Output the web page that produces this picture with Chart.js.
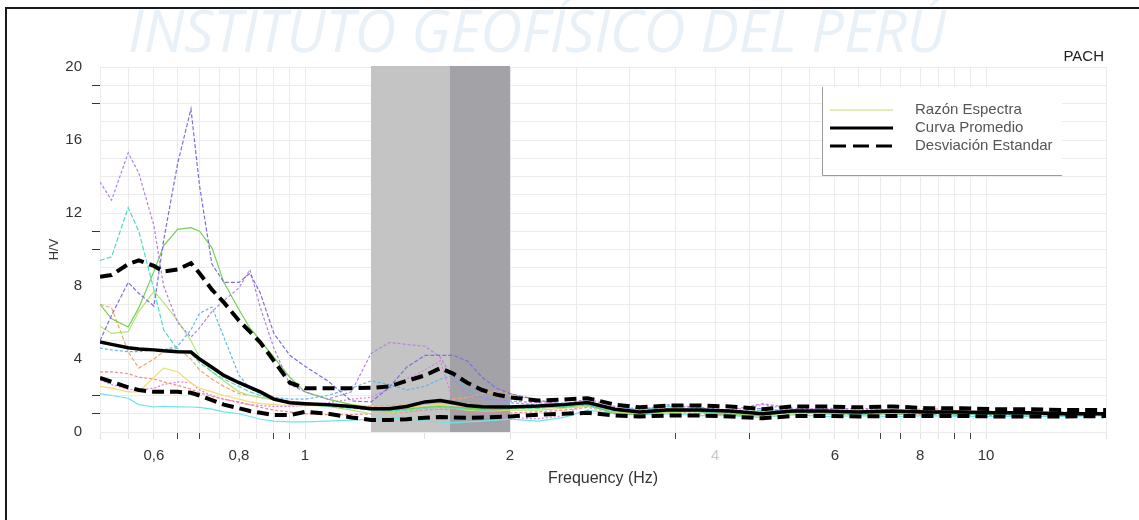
<!DOCTYPE html>
<html>
<head>
<meta charset="utf-8">
<script src="https://cdn.jsdelivr.net/npm/chart.js@4.4.1/dist/chart.umd.min.js"></script>
<style>
  html, body { margin: 0; padding: 0; background: #fff; }
  #wrap { width: 1139px; height: 520px; }
</style>
</head>
<body>
<div id="wrap"><canvas id="hvChart" width="1139" height="520"></canvas></div>
<script>
// frequency grid (Hz) shared by every curve
const freqs = [0.50,0.52,0.55,0.57,0.60,0.62,0.65,0.68,0.70,0.73,0.76,0.80,0.83,0.86,0.90,0.95,1.00,1.08,1.17,1.25,1.33,1.41,1.50,1.58,1.65,1.73,1.82,1.91,2.00,
               2.20,2.40,2.60,2.85,3.10,3.40,3.80,4.20,4.70,5.20,5.80,6.50,7.30,8.20,9.20,10.3,11.5,13.0,15.0];

const promedio = [4.93,4.8,4.62,4.55,4.5,4.45,4.4,4.38,4.0,3.55,3.1,2.7,2.45,2.2,1.8,1.6,1.55,1.5,1.4,1.27,1.28,1.4,1.65,1.72,1.6,1.45,1.38,1.37,1.37,
                  1.42,1.5,1.62,1.25,1.1,1.2,1.2,1.15,1.0,1.15,1.15,1.1,1.15,1.1,1.1,1.05,1.05,1.0,1.0];
const desvSup = [8.5,8.6,9.2,9.4,9.1,8.8,8.9,9.25,8.7,7.8,7.1,6.1,5.5,4.9,3.9,2.7,2.4,2.4,2.4,2.42,2.5,2.8,3.1,3.5,3.2,2.7,2.3,2.05,1.9,
                 1.72,1.78,1.85,1.5,1.35,1.45,1.45,1.4,1.25,1.4,1.4,1.35,1.4,1.3,1.3,1.25,1.25,1.2,1.2];
const desvInf = [2.96,2.75,2.45,2.3,2.2,2.2,2.2,2.15,2.0,1.75,1.5,1.3,1.15,1.05,0.93,0.93,1.1,1.0,0.8,0.66,0.66,0.7,0.78,0.82,0.8,0.78,0.8,0.82,0.85,
                 0.95,1.0,1.05,0.9,0.85,0.9,0.9,0.85,0.75,0.88,0.88,0.85,0.88,0.88,0.88,0.85,0.85,0.85,0.87];

// individual spectral ratios (one per window)
const razon1 = [5.0,6.4,8.2,7.6,6.9,10.5,14.7,17.7,13.5,9.2,8.2,8.2,8.7,7.6,5.4,4.2,3.6,2.8,1.7,1.65,2.45,3.55,4.2,4.2,4.2,3.9,3.0,2.4,2.1,
                1.75,1.5,1.6,1.3,1.1,1.25,1.2,1.1,1.3,1.1,1.2,1.0,1.1,1.0,1.1,1.05,1.0,0.95,0.95];
const razon2 = [13.7,12.7,15.3,14.2,11.3,8.0,6.0,5.2,5.7,6.6,7.2,7.9,8.9,6.8,4.6,2.6,2.2,1.8,2.2,4.3,4.9,4.8,4.7,4.1,2.9,2.05,1.85,1.75,1.7,
                1.6,1.55,1.8,1.4,1.2,1.5,1.35,1.2,1.55,1.3,1.25,1.3,1.2,1.15,1.1,1.1,1.05,1.1,1.0];
const razon3 = [9.4,9.6,12.3,11.0,7.8,5.6,4.5,4.3,3.8,3.3,2.9,2.5,2.2,2.0,1.8,1.6,1.5,1.4,1.3,1.2,1.15,1.2,1.3,1.35,1.3,1.25,1.2,1.25,1.3,
                1.3,1.4,1.5,1.1,1.25,1.4,1.1,1.0,1.2,1.05,1.0,0.95,1.1,1.0,0.9,1.0,0.95,0.9,0.95];
const razon4 = [4.6,4.5,4.4,4.4,4.5,4.5,4.7,5.6,6.5,6.85,5.2,3.1,2.4,2.1,1.9,1.8,1.8,2.0,2.4,2.8,2.6,2.3,2.5,2.9,3.1,2.4,1.9,1.7,1.6,
                1.5,1.6,1.45,1.2,1.35,1.2,1.3,1.05,1.1,1.25,1.0,1.1,0.95,1.05,1.0,0.9,1.0,1.0,0.95];
const razon5 = [7.0,6.2,5.75,6.8,8.8,10.2,11.1,11.2,11.0,10.1,8.2,6.7,5.7,5.0,4.1,3.0,2.2,1.8,1.5,1.3,1.2,1.25,1.35,1.4,1.35,1.3,1.3,1.35,1.4,
                1.4,1.35,1.5,1.0,0.95,1.15,1.1,0.95,0.9,1.1,1.05,1.0,1.0,1.05,0.95,1.0,1.0,0.95,1.0];
const razon6 = [5.8,5.4,5.5,6.6,7.7,7.1,6.1,5.0,4.1,3.3,2.8,2.2,2.0,1.9,1.75,1.6,1.5,1.4,1.2,1.0,1.05,1.15,1.35,1.4,1.3,1.2,1.15,1.15,1.2,
                1.2,1.3,1.4,1.1,1.0,1.05,1.15,1.0,0.85,0.95,1.1,1.05,0.95,1.0,1.05,0.95,0.9,1.0,0.95];
const razon7 = [7.0,6.8,4.4,3.5,4.0,4.4,4.6,4.0,3.4,2.9,2.5,2.1,2.0,1.9,1.8,1.7,1.6,1.5,1.4,1.4,1.45,1.5,1.6,1.7,1.8,1.9,2.1,2.25,2.1,
                1.7,1.5,1.55,1.25,1.15,1.3,1.2,1.1,1.05,1.2,1.15,1.2,1.1,1.3,1.15,1.05,1.0,1.05,1.0];
const razon8 = [2.5,2.4,2.2,2.2,3.0,3.5,3.3,2.7,2.4,2.2,2.0,1.8,1.65,1.55,1.5,1.45,1.45,1.45,1.5,1.4,1.3,1.35,1.45,1.5,1.45,1.4,1.35,1.3,1.3,
                1.3,1.4,1.5,1.15,1.0,1.1,1.2,1.05,0.95,1.1,1.05,0.95,1.05,1.1,1.0,1.05,0.95,1.0,0.95];
const razon9 = [3.3,3.3,3.2,3.0,2.9,2.75,2.55,2.35,2.15,1.95,1.8,1.65,1.5,1.35,1.2,1.1,1.0,0.95,0.95,1.0,1.05,1.1,1.2,1.25,1.2,1.1,1.05,1.05,1.05,
                1.1,1.2,1.35,1.05,1.0,1.1,1.0,0.95,1.0,1.05,1.0,1.05,1.0,0.95,1.0,0.95,1.0,0.95,1.0];
const razon10 = [2.85,2.6,2.35,2.3,2.4,2.6,2.75,2.7,2.3,2.0,1.8,1.6,1.5,1.45,1.4,1.4,1.45,1.6,1.8,1.9,2.4,2.9,3.4,3.9,1.7,1.2,0.95,0.85,0.8,
                 0.72,0.9,1.7,1.3,1.1,1.45,1.3,1.15,1.5,1.2,1.3,1.25,1.15,1.2,1.1,1.1,1.05,1.05,1.0];
const razon11 = [2.1,2.0,1.85,1.5,1.37,1.4,1.38,1.37,1.35,1.25,1.1,1.0,0.85,0.7,0.6,0.55,0.55,0.6,0.65,0.7,0.75,0.75,0.6,0.55,0.5,0.55,0.6,0.65,0.7,
                 0.6,0.8,1.2,1.0,0.95,1.0,0.9,0.9,0.8,0.95,0.85,0.9,0.85,0.9,0.85,0.85,0.85,0.85,0.9];

const razones = [razon1, razon2, razon3, razon4, razon5, razon6, razon7, razon8, razon9, razon10, razon11];
const razonColors = ['#7b6fe0', '#b282e6', '#4fdcc0', '#5ab8ec', '#72cf55', '#b5e27a', '#f0a86a', '#f0dc78', '#f08a8a', '#e27ae2', '#6ee3e8'];
const razonDash = [[4, 2], [3, 2], [5, 2], [3, 2], [], [], [4, 2], [], [3, 2], [2, 2], []];

// shaded frequency window (Hz)
const bandLight = [1.25, 1.63];
const bandDark = [1.63, 2.0];

// axis ticks
const xGridFreqs = [0.5,0.55,0.6,0.65,0.7,0.75,0.8,0.85,0.9,0.95,1,1.5,2,2.5,3,3.5,4,4.5,5,5.5,6,6.5,7,7.5,8,8.5,9,9.5,10,15];
const xLabelFreqs = [0.6, 0.8, 1, 2, 4, 6, 8, 10];
const xLabelText = ['0,6', '0,8', '1', '2', '4', '6', '8', '10'];
const xDarkTicks = [0.65, 0.7, 0.9, 0.95, 3.5, 4.5, 7, 7.5, 9, 9.5];
const yGridValues = [0,1,2,3,4,5,6,7,8,9,10,11,12,13,14,15,16,17,18,19,20];
const yDarkTicks = [1, 2, 10, 11, 18, 19];

const legendItems = ['Razón Espectra', 'Curva Promedio', 'Desviación Estandar'];
const watermark = 'INSTITUTO GEOFÍSICO DEL PERÚ';
const station = 'PACH';

const toPoints = vals => freqs.map((f, i) => ({ x: f, y: vals[i] }));

const datasets = [
    { label: 'Curva Promedio', data: toPoints(promedio), borderColor: '#000', borderWidth: 3.5 },
    { label: 'Desviación Estandar +', data: toPoints(desvSup), borderColor: '#000', borderWidth: 4, borderDash: [12, 6] },
    { label: 'Desviación Estandar -', data: toPoints(desvInf), borderColor: '#000', borderWidth: 4, borderDash: [12, 6] }
];
razones.forEach((r, i) => {
    datasets.push({ label: 'Razón ' + (i + 1), data: toPoints(r), borderColor: razonColors[i], borderWidth: 1.2, borderDash: razonDash[i] });
});

const decor = {
    id: 'decor',
    beforeDraw(chart) {
        const ctx = chart.ctx;
        ctx.save();
        ctx.fillStyle = '#fff';
        ctx.fillRect(0, 0, chart.width, chart.height);
        ctx.font = 'italic 58px "Open Sans", sans-serif';
        const w = ctx.measureText(watermark).width;
        ctx.translate(128, 52);
        ctx.scale(818 / w, 1);
        ctx.fillStyle = '#e8f0f8';
        ctx.fillText(watermark, 0, 0);
        ctx.restore();
    },
    beforeDatasetsDraw(chart) {
        const ctx = chart.ctx;
        const x = chart.scales.x;
        const { top, bottom } = chart.chartArea;
        ctx.save();
        ctx.fillStyle = '#c4c4c4';
        ctx.fillRect(x.getPixelForValue(bandLight[0]), top - 1, x.getPixelForValue(bandLight[1]) - x.getPixelForValue(bandLight[0]), bottom - top + 1);
        ctx.fillStyle = '#a3a3a7';
        ctx.fillRect(x.getPixelForValue(bandDark[0]), top - 1, x.getPixelForValue(bandDark[1]) - x.getPixelForValue(bandDark[0]), bottom - top + 1);
        ctx.restore();
    },
    afterDraw(chart) {
        const ctx = chart.ctx;
        ctx.save();
        // legend box
        ctx.fillStyle = '#fff';
        ctx.fillRect(822, 87, 240, 88);
        ctx.strokeStyle = '#9a9a9a';
        ctx.lineWidth = 1;
        ctx.beginPath();
        ctx.moveTo(822.5, 87);
        ctx.lineTo(822.5, 175.5);
        ctx.lineTo(1062, 175.5);
        ctx.stroke();
        const rows = [110, 128, 146];
        const styles = [
            { color: '#e4eeb0', width: 2, dash: [] },
            { color: '#000', width: 3, dash: [] },
            { color: '#000', width: 3, dash: [16, 7] }
        ];
        ctx.font = '15px "Liberation Sans", Arial, sans-serif';
        ctx.textBaseline = 'middle';
        legendItems.forEach((t, i) => {
            ctx.strokeStyle = styles[i].color;
            ctx.lineWidth = styles[i].width;
            ctx.setLineDash(styles[i].dash);
            ctx.beginPath();
            ctx.moveTo(830, rows[i]);
            ctx.lineTo(893, rows[i]);
            ctx.stroke();
            ctx.fillStyle = '#555';
            ctx.fillText(t, 915, rows[i]);
        });
        ctx.setLineDash([]);
        // station name
        ctx.font = '15px "Liberation Sans", Arial, sans-serif';
        ctx.fillStyle = '#222';
        ctx.textAlign = 'right';
        ctx.textBaseline = 'alphabetic';
        ctx.fillText(station, 1104, 61);
        // outer frame
        ctx.strokeStyle = '#1a1a1a';
        ctx.lineWidth = 2;
        ctx.beginPath();
        ctx.moveTo(6, 520);
        ctx.lineTo(6, 8);
        ctx.lineTo(1139, 8);
        ctx.stroke();
        ctx.restore();
    }
};

Chart.defaults.font.family = '"Liberation Sans", Arial, sans-serif';

new Chart(document.getElementById('hvChart'), {
    type: 'line',
    data: { datasets },
    options: {
        responsive: false,
        animation: false,
        layout: { padding: { left: 0, top: 67, right: 33, bottom: 0 } },
        plugins: { legend: { display: false }, tooltip: { enabled: false } },
        elements: { point: { radius: 0 }, line: { tension: 0 } },
        scales: {
            x: {
                type: 'logarithmic',
                min: 0.5,
                max: 15,
                afterBuildTicks: s => { s.ticks = xGridFreqs.map(v => ({ value: v })); },
                afterFit: s => { s.height = 88; },
                border: { display: false },
                grid: {
                    color: '#ebebeb',
                    tickLength: 7,
                    tickColor: c => xDarkTicks.includes(c.tick.value) ? '#444' : '#e2e2e2'
                },
                ticks: {
                    autoSkip: false,
                    maxRotation: 0,
                    padding: 8,
                    font: { size: 15 },
                    color: c => c.tick.value === 4 ? '#c8c8c8' : '#333',
                    callback: v => {
                        const i = xLabelFreqs.indexOf(v);
                        return i >= 0 ? xLabelText[i] : '';
                    }
                },
                title: { display: true, text: 'Frequency (Hz)', color: '#333', font: { size: 16 }, padding: { top: 0, bottom: 32 } }
            },
            y: {
                min: 0,
                max: 20,
                afterBuildTicks: s => { s.ticks = yGridValues.map(v => ({ value: v })); },
                afterFit: s => { s.width = 100; },
                border: { display: false },
                grid: {
                    color: '#ebebeb',
                    tickLength: 8,
                    tickColor: c => yDarkTicks.includes(c.tick.value) ? '#333' : 'rgba(0,0,0,0)'
                },
                ticks: {
                    autoSkip: false,
                    padding: 10,
                    font: { size: 15 },
                    color: '#333',
                    callback: v => v % 4 === 0 ? String(v) : ''
                },
                title: { display: true, text: 'H/V', color: '#333', font: { size: 13 }, padding: { top: 47, bottom: 0 } }
            }
        }
    },
    plugins: [decor]
});
</script>
</body>
</html>
